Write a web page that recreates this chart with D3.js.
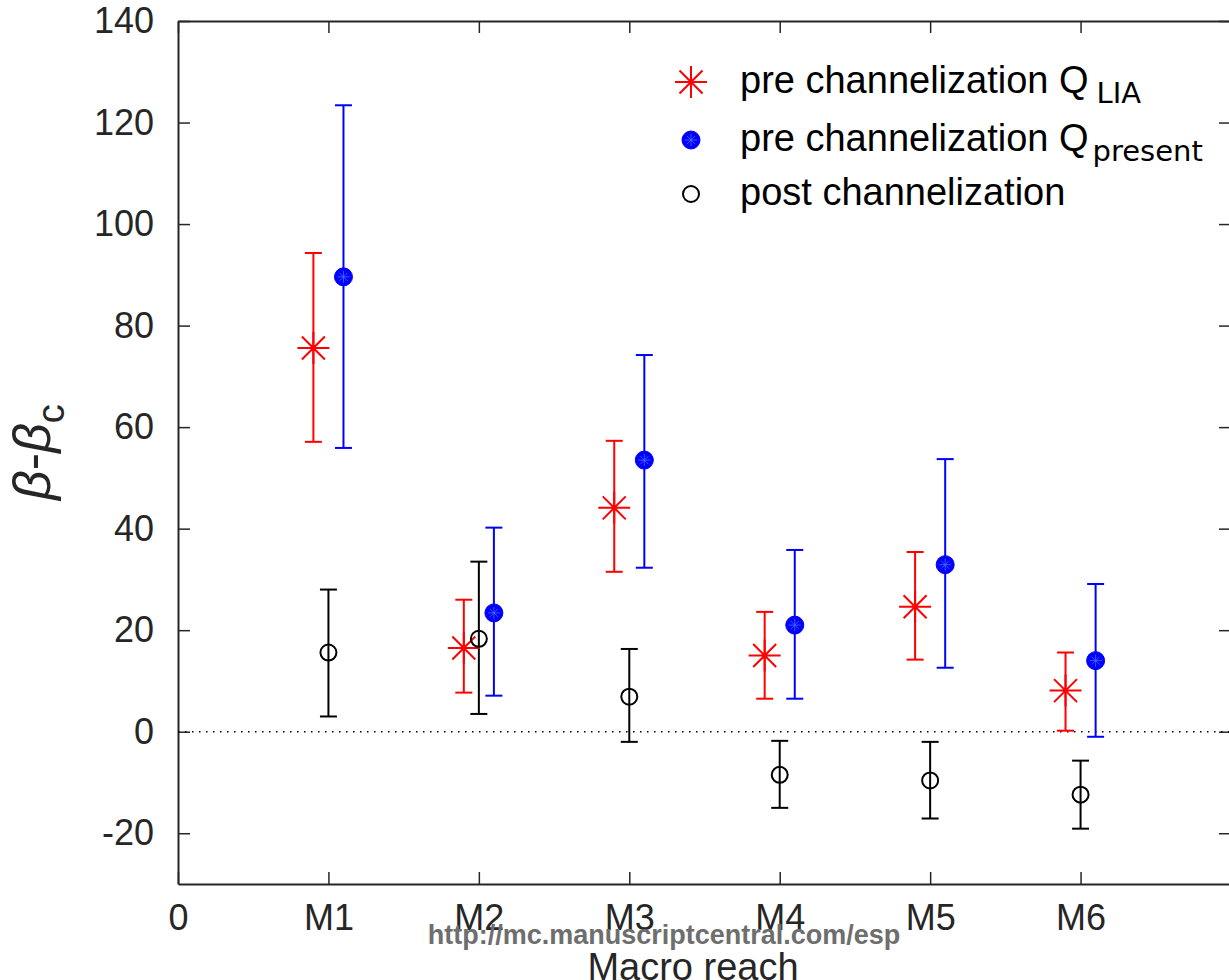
<!DOCTYPE html>
<html>
<head>
<meta charset="utf-8">
<script src="https://cdn.jsdelivr.net/npm/d3@7"></script>
<style>
body { margin: 0; background: #fff; }
text { font-family: "Liberation Sans", Arial, sans-serif; }
</style>
</head>
<body>
<script>
// data
var reaches = ["M1", "M2", "M3", "M4", "M5", "M6"];
var xTicks = [0, 1, 2, 3, 4, 5, 6];
var yTicks = [-20, 0, 20, 40, 60, 80, 100, 120, 140];

var liaMean = [75.6, 16.5, 44.1, 15.0, 24.6, 8.1];
var liaLow  = [57.1, 7.7, 31.5, 6.5, 14.2, 0.2];
var liaHigh = [94.3, 26.0, 57.3, 23.6, 35.4, 15.6];

var presMean = [89.6, 23.4, 53.5, 21.0, 32.9, 14.0];
var presLow  = [55.9, 7.1, 32.3, 6.5, 12.6, -1.0];
var presHigh = [123.4, 40.2, 74.2, 35.8, 53.7, 29.1];

var postMean = [15.6, 18.3, 6.9, -8.5, -9.6, -12.4];
var postLow  = [3.0, 3.5, -2.0, -15.0, -17.1, -19.1];
var postHigh = [28.0, 33.5, 16.3, -1.8, -2.0, -5.7];

var W = 1229, H = 980;
var pLeft = 178, pRight = 1231, pTop = 21, pBottom = 884;
var axisColor = "#262626";

var svg = d3.select("body").append("svg")
    .attr("width", W)
    .attr("height", H);

var x = d3.scaleLinear().domain([0, 7]).range([pLeft, pRight]);
var y = d3.scaleLinear().domain([-30, 140]).range([pBottom, pTop]);

// build series
function makeSeries(mean, low, high, offset) {
    return reaches.map(function(r, i) {
        return { x: i + 1 + offset, v: mean[i], lo: low[i], hi: high[i] };
    });
}
var lia = makeSeries(liaMean, liaLow, liaHigh, -0.1);
var pres = makeSeries(presMean, presLow, presHigh, 0.1);
var post = makeSeries(postMean, postLow, postHigh, 0);

// axes
function styleAxis(g) {
    g.select(".domain").attr("stroke", axisColor).attr("stroke-width", 2);
    g.selectAll(".tick line").attr("stroke", axisColor).attr("stroke-width", 1.5);
    g.selectAll(".tick text").attr("fill", axisColor).style("font-size", "36px")
        .style("font-family", "'Liberation Sans', Arial, sans-serif");
}

svg.append("g")
    .attr("transform", "translate(" + pLeft + ",0)")
    .call(d3.axisLeft(y).tickValues(yTicks).tickSizeInner(-12).tickSizeOuter(0).tickPadding(24)
        .tickFormat(function(d) { return String(d); }))
    .call(styleAxis);

svg.append("g")
    .attr("transform", "translate(" + pRight + ",0)")
    .call(d3.axisRight(y).tickValues(yTicks).tickSizeInner(-12).tickSizeOuter(0).tickFormat(""))
    .call(styleAxis);

svg.append("g")
    .attr("transform", "translate(0," + pBottom + ")")
    .call(d3.axisBottom(x).tickValues(xTicks).tickSizeInner(-12).tickSizeOuter(0).tickPadding(20)
        .tickFormat(function(d) { return d === 0 ? "0" : reaches[d - 1]; }))
    .call(styleAxis);

svg.append("g")
    .attr("transform", "translate(0," + pTop + ")")
    .call(d3.axisTop(x).tickValues(xTicks).tickSizeInner(-12).tickSizeOuter(0).tickFormat(""))
    .call(styleAxis);

// zero line
svg.append("line")
    .attr("x1", pLeft).attr("x2", pRight)
    .attr("y1", y(0)).attr("y2", y(0))
    .attr("stroke", "#000")
    .attr("stroke-width", 1.5)
    .attr("stroke-dasharray", "1.5,5.5");

// error bars
function drawErrors(data, color) {
    var g = svg.append("g").attr("stroke", color).attr("stroke-width", 2);
    g.selectAll(".bar").data(data).enter().append("line")
        .attr("x1", function(d) { return x(d.x); }).attr("x2", function(d) { return x(d.x); })
        .attr("y1", function(d) { return y(d.lo); }).attr("y2", function(d) { return y(d.hi); });
    g.selectAll(".capHi").data(data).enter().append("line")
        .attr("x1", function(d) { return x(d.x) - 8.5; }).attr("x2", function(d) { return x(d.x) + 8.5; })
        .attr("y1", function(d) { return y(d.hi); }).attr("y2", function(d) { return y(d.hi); });
    g.selectAll(".capLo").data(data).enter().append("line")
        .attr("x1", function(d) { return x(d.x) - 8.5; }).attr("x2", function(d) { return x(d.x) + 8.5; })
        .attr("y1", function(d) { return y(d.lo); }).attr("y2", function(d) { return y(d.lo); });
}

// marker painters
function asterisk(sel, color) {
    var r = 16, d = 11.5;
    sel.append("path")
        .attr("d", "M" + (-r) + ",0H" + r + "M0," + (-r) + "V" + r +
            "M" + (-d) + "," + (-d) + "L" + d + "," + d +
            "M" + (-d) + "," + d + "L" + d + "," + (-d))
        .attr("stroke", color).attr("stroke-width", 2).attr("fill", "none");
}
function dot(sel) {
    sel.append("circle").attr("r", 9).attr("fill", "#0000ff").attr("stroke", "#0000ff");
    sel.append("path")
        .attr("d", "M-6,0H6M0,-6V6M-4,-4L4,4M-4,4L4,-4")
        .attr("stroke", "#4d6bff").attr("stroke-width", 0.8).attr("fill", "none");
}
function ring(sel) {
    sel.append("circle").attr("r", 8).attr("fill", "none")
        .attr("stroke", "#000").attr("stroke-width", 2);
}

drawErrors(lia, "#ff0000");
drawErrors(pres, "#0000ff");
drawErrors(post, "#000000");

function drawMarkers(data, painter, color) {
    svg.append("g").selectAll("g").data(data).enter().append("g")
        .attr("transform", function(d) { return "translate(" + x(d.x) + "," + y(d.v) + ")"; })
        .each(function() { painter(d3.select(this), color); });
}
drawMarkers(lia, asterisk, "#ff0000");
drawMarkers(pres, dot);
drawMarkers(post, ring);

// legend
var legendRows = [
    { y: 82, main: "pre channelization Q", sub: "LIA", subDx: 8, painter: asterisk, color: "#ff0000" },
    { y: 140, main: "pre channelization Q", sub: "present", subDx: 4, painter: dot },
    { y: 194, main: "post channelization", sub: null, painter: ring }
];
var legend = svg.append("g");
legendRows.forEach(function(row) {
    var mg = legend.append("g").attr("transform", "translate(691," + row.y + ")");
    row.painter(mg, row.color);
    var t = legend.append("text")
        .attr("x", 740).attr("y", row.y + 11)
        .attr("fill", "#000")
        .style("font-size", "38px")
        .text(row.main);
    if (row.sub) {
        t.append("tspan")
            .attr("dx", row.subDx).attr("dy", 10)
            .style("font-family", "'DejaVu Sans', sans-serif")
            .style("font-size", "29px")
            .text(row.sub);
    }
});

// y label
var yl = svg.append("text")
    .attr("transform", "translate(50,452) rotate(-90)")
    .attr("text-anchor", "middle")
    .attr("fill", axisColor)
    .style("font-size", "52px");
yl.append("tspan").style("font-style", "italic").text("\u03B2");
yl.append("tspan").text("-");
yl.append("tspan").style("font-style", "italic").text("\u03B2");
yl.append("tspan").attr("dy", 14).style("font-size", "38px").text("c");

// x label
svg.append("text")
    .attr("x", 693).attr("y", 980)
    .attr("text-anchor", "middle")
    .attr("fill", axisColor)
    .style("font-size", "38px")
    .text("Macro reach");

// watermark
svg.append("text")
    .attr("x", 664).attr("y", 944)
    .attr("text-anchor", "middle")
    .attr("fill", "#6e6e6e")
    .style("font-size", "27px")
    .style("font-weight", "bold")
    .text("http://mc.manuscriptcentral.com/esp");
</script>
</body>
</html>
